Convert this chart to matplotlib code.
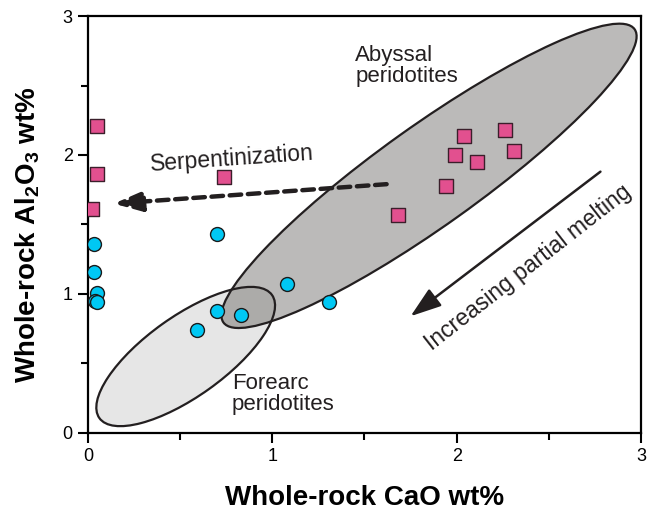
import numpy as np
import matplotlib
matplotlib.use("Agg")
import matplotlib.pyplot as plt
from matplotlib.patches import Ellipse
from matplotlib.transforms import ScaledTranslation

plt.rcParams['font.family'] = ['Liberation Sans', 'DejaVu Sans']
plt.rcParams['mathtext.fontset'] = 'custom'
plt.rcParams['mathtext.rm'] = 'Liberation Sans'
plt.rcParams['mathtext.bf'] = 'Liberation Sans:bold'

# serpentinized / abyssal samples (squares)
sq_cao = [0.05, 0.05, 0.02, 0.74, 1.68, 1.94, 1.99, 2.04, 2.11, 2.26, 2.31]
sq_al2o3 = [2.21, 1.86, 1.61, 1.84, 1.57, 1.78, 2.00, 2.14, 1.95, 2.18, 2.03]

# forearc-type samples (circles)
ci_cao = [0.03, 0.03, 0.05, 0.04, 0.05, 0.70, 0.59, 0.70, 0.83, 1.08, 1.31]
ci_al2o3 = [1.36, 1.16, 1.01, 0.95, 0.94, 1.43, 0.74, 0.88, 0.85, 1.07, 0.94]

# fields: center (data), full axes (inches on the page), tilt (deg)
abyssal_center = (1.85, 1.85)
abyssal_axes = (5.05, 1.00)
forearc_center = (0.53, 0.55)
forearc_axes = (2.12, 0.80)
field_angle = 35.5

fig = plt.figure(figsize=(6.47, 5.13), dpi=100)
ax = fig.add_axes([0.136, 0.156, 0.8547, 0.8128])
ax.set_xlim(0, 3)
ax.set_ylim(0, 3)


def field(center, size, color, alpha, z):
    tr = fig.dpi_scale_trans + ScaledTranslation(center[0], center[1], ax.transData)
    fill = Ellipse((0, 0), size[0], size[1], angle=field_angle, transform=tr,
                   facecolor=color, alpha=alpha, edgecolor='none', zorder=z)
    edge = Ellipse((0, 0), size[0], size[1], angle=field_angle, transform=tr,
                   facecolor='none', edgecolor='#231f20', lw=1.6, zorder=3)
    ax.add_patch(fill)
    ax.add_patch(edge)


field(forearc_center, forearc_axes, '#e6e6e6', 1.0, 1)
field(abyssal_center, abyssal_axes, '#524e4b', 0.39, 2)

ax.scatter(sq_cao, sq_al2o3, marker='s', s=100, c='#e2508f', edgecolors='#3b1f2b',
           linewidths=1.0, zorder=5)
ax.scatter(ci_cao, ci_al2o3, marker='o', s=100, c='#00c8f4', edgecolors='#1a1a1a',
           linewidths=1.0, zorder=5)

# serpentinization arrow (dashed)
ax.annotate('', xy=(0.14, 1.65), xytext=(1.62, 1.79),
            arrowprops=dict(arrowstyle='-|>,head_length=1.7,head_width=0.6',
                            lw=3.2, ls=(0, (2.6, 1.5)), color='#231f20',
                            shrinkA=0, shrinkB=0), zorder=4)
# partial melting arrow
ax.annotate('', xy=(1.75, 0.84), xytext=(2.78, 1.88),
            arrowprops=dict(arrowstyle='-|>,head_length=1.9,head_width=0.65',
                            lw=1.8, color='#231f20', shrinkA=0, shrinkB=0), zorder=4)

ax.text(1.45, 2.64, 'Abyssal\nperidotites', fontsize=16, ha='left', va='center',
        linespacing=1.05, color='#231f20')
ax.text(0.78, 1.97, 'Serpentinization', fontsize=16.5, ha='center', va='center',
        rotation=4, color='#231f20')
ax.text(0.78, 0.28, 'Forearc\nperidotites', fontsize=16, ha='left', va='center',
        linespacing=1.05, color='#231f20')
ax.text(2.39, 1.19, 'Increasing partial melting', fontsize=16.5, ha='center',
        va='center', rotation=38, rotation_mode='anchor', color='#231f20')

ax.set_xticks([0, 1, 2, 3])
ax.set_yticks([0, 1, 2, 3])
ax.set_xticks([0.5, 1.5, 2.5], minor=True)
ax.set_yticks([0.5, 1.5, 2.5], minor=True)
ax.tick_params(which='major', direction='out', length=7, width=1.5, labelsize=13,
               top=False, right=False, pad=4)
ax.tick_params(which='minor', direction='out', length=5, width=1.5,
               top=False, right=False)
for sp in ax.spines.values():
    sp.set_linewidth(1.6)

ax.set_xlabel('Whole-rock CaO wt%', fontsize=20, fontweight='bold', labelpad=14)
ax.set_ylabel(r'Whole-rock Al$_\mathbf{2}$O$_\mathbf{3}$ wt%', fontsize=20,
              fontweight='bold', labelpad=14)
ax.yaxis.set_label_coords(-0.083, 0.475)

fig.savefig('out.png', dpi=100)
